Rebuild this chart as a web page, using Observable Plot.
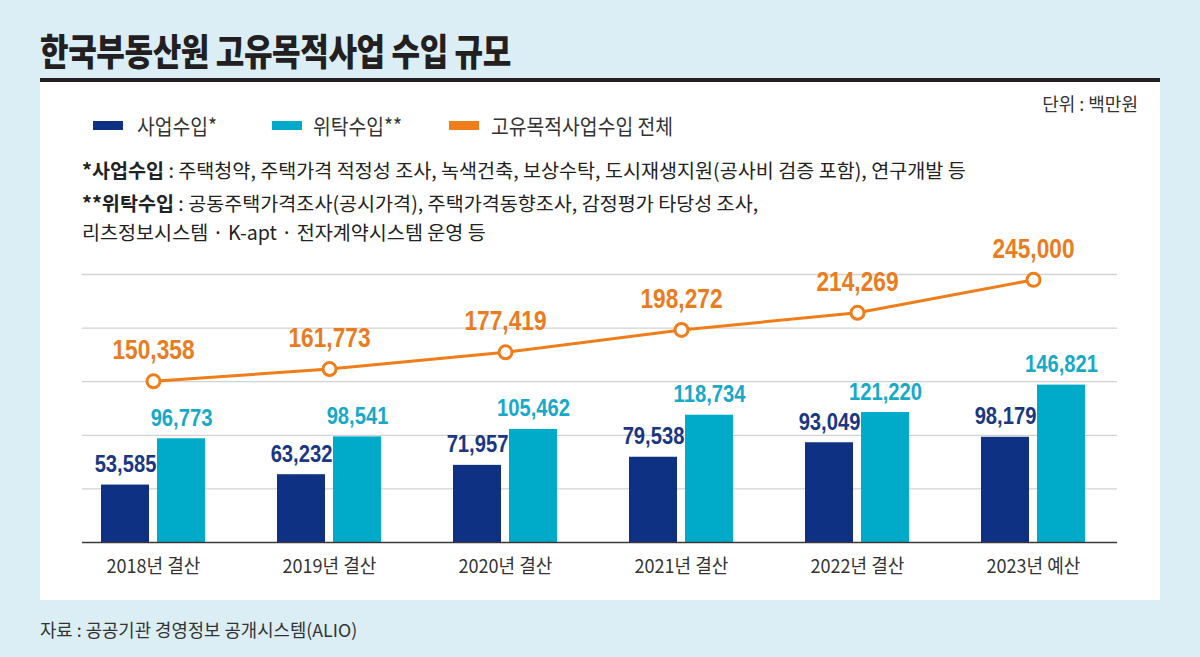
<!DOCTYPE html>
<html><head><meta charset="utf-8">
<script src="https://cdn.jsdelivr.net/npm/d3@7"></script>
<script src="https://cdn.jsdelivr.net/npm/@observablehq/plot@0.6"></script>
<style>
html,body{margin:0;padding:0;}
body{width:1200px;height:657px;background:#dbeef5;position:relative;overflow:hidden;font-family:"Noto Sans CJK KR","Noto Sans",sans-serif;color:#222;}
.abs{position:absolute;white-space:nowrap;line-height:1;}
#panel{left:40px;top:82px;width:1120px;height:518px;background:#fff;}
#rule{left:40px;top:78px;width:1120px;height:4px;background:#231f20;}
#title{left:40px;top:32px;font-size:37px;font-weight:900;color:#231f20;transform:scaleX(0.84);transform-origin:0 50%;letter-spacing:-0.5px;}
.sw{position:absolute;width:30px;height:9px;top:121px;}
.lg{top:115px;font-size:21px;color:#333;transform:scaleX(0.92);transform-origin:0 50%;}
.note{left:82px;font-size:19.6px;color:#222;}
.note b{font-weight:700;}
#unit{right:62px;top:94px;font-size:18px;color:#333;}
#source{left:40px;top:621px;font-size:17.8px;color:#333;}
#chart{position:absolute;left:0;top:240px;}
</style></head>
<body>
<div id="panel" class="abs"></div>
<div id="rule" class="abs"></div>
<div id="title" class="abs">한국부동산원 고유목적사업 수입 규모</div>
<div id="unit" class="abs">단위 : 백만원</div>
<div id="legend"></div>
<div class="abs note" style="top:160px"><b>*사업수입</b> : 주택청약, 주택가격 적정성 조사, 녹색건축, 보상수탁, 도시재생지원(공사비 검증 포함), 연구개발 등</div>
<div class="abs note" style="top:193px"><b>**위탁수입</b> : 공동주택가격조사(공시가격), 주택가격동향조사, 감정평가 타당성 조사,</div>
<div class="abs note" style="top:222px">리츠정보시스템 · K-apt · 전자계약시스템 운영 등</div>
<div id="source" class="abs">자료 : 공공기관 경영정보 공개시스템(ALIO)</div>
<div id="chart"></div>
<script>
// ---- data ----
const years = ["2018년 결산", "2019년 결산", "2020년 결산", "2021년 결산", "2022년 결산", "2023년 예산"];
const bizRevenue = [53585, 63232, 71957, 79538, 93049, 98179];
const trustRevenue = [96773, 98541, 105462, 118734, 121220, 146821];
const totalRevenue = [150358, 161773, 177419, 198272, 214269, 245000];
const gridTicks = [50000, 100000, 150000, 200000, 250000];
const seriesNames = ["사업수입*", "위탁수입**", "고유목적사업수입 전체"];
const seriesColors = ["#0f3184", "#00abc9", "#ee7d1a"];
const labelColors = ["#1a3784", "#17a9c8", "#e97c1e"];

const rows = years.map((year, i) => ({year, biz: bizRevenue[i], trust: trustRevenue[i], total: totalRevenue[i]}));
const fmt = d3.format(",");
const numFont = '"Liberation Sans",Arial,sans-serif';

// legend
const legendPos = [[93, 137], [272, 313], [449, 491]];
const legend = document.getElementById("legend");
seriesNames.forEach((name, i) => {
  const sw = document.createElement("div");
  sw.className = "sw";
  sw.style.left = legendPos[i][0] + "px";
  sw.style.background = seriesColors[i];
  legend.appendChild(sw);
  const t = document.createElement("div");
  t.className = "abs lg";
  t.style.left = legendPos[i][1] + "px";
  t.textContent = name;
  legend.appendChild(t);
});

const chart = Plot.plot({
  width: 1200,
  height: 350,
  marginLeft: 82,
  marginRight: 83,
  marginTop: 0,
  marginBottom: 48,
  style: {background: "transparent", overflow: "visible"},
  x: {type: "band", domain: years, range: [65, 1121], padding: 0, axis: null},
  y: {domain: [0, 250000], range: [302, 34], axis: null},
  marks: [
    Plot.ruleY(gridTicks, {stroke: "#d2d2d2", strokeWidth: 1.3}),
    Plot.barY(rows, {x: "year", y: "biz", fill: seriesColors[0], insetLeft: 36, insetRight: 92}),
    Plot.barY(rows, {x: "year", y: "trust", fill: seriesColors[1], insetLeft: 92, insetRight: 36}),
    Plot.ruleY([0], {stroke: "#3a3a3a", strokeWidth: 1.5}),
    Plot.line(rows, {x: "year", y: "total", stroke: seriesColors[2], strokeWidth: 3}),
    Plot.dot(rows, {x: "year", y: "total", r: 6.5, fill: "white", stroke: seriesColors[2], strokeWidth: 3}),
    Plot.text(rows, {x: "year", y: "biz", text: d => fmt(d.biz), dx: -28, dy: -13, lineAnchor: "bottom",
      fill: labelColors[0], fontSize: 24, fontWeight: "bold", fontFamily: numFont}),
    Plot.text(rows, {x: "year", y: "trust", text: d => fmt(d.trust), dx: 28, dy: -13, lineAnchor: "bottom",
      fill: labelColors[1], fontSize: 24, fontWeight: "bold", fontFamily: numFont}),
    Plot.text(rows, {x: "year", y: "total", text: d => fmt(d.total), dy: -22, lineAnchor: "bottom",
      fill: labelColors[2], fontSize: 27, fontWeight: "bold", fontFamily: numFont}),
    Plot.text(rows, {x: "year", y: () => 0, text: "year", dy: 24, lineAnchor: "middle",
      fill: "#333", fontSize: 19, fontFamily: '"Noto Sans CJK KR",sans-serif'})
  ]
});
document.getElementById("chart").appendChild(chart);
// condense the labels like the original's narrow typeface
const textGroups = chart.querySelectorAll('g[aria-label="text"]');
textGroups.forEach((g, gi) => {
  const factor = gi < 3 ? 0.84 : 0.95;
  g.querySelectorAll("text").forEach(t => {
    const w = t.getComputedTextLength();
    if (w > 0) {
      t.setAttribute("lengthAdjust", "spacingAndGlyphs");
      t.setAttribute("textLength", (w * factor).toFixed(1));
    }
  });
});
</script>
</body></html>
